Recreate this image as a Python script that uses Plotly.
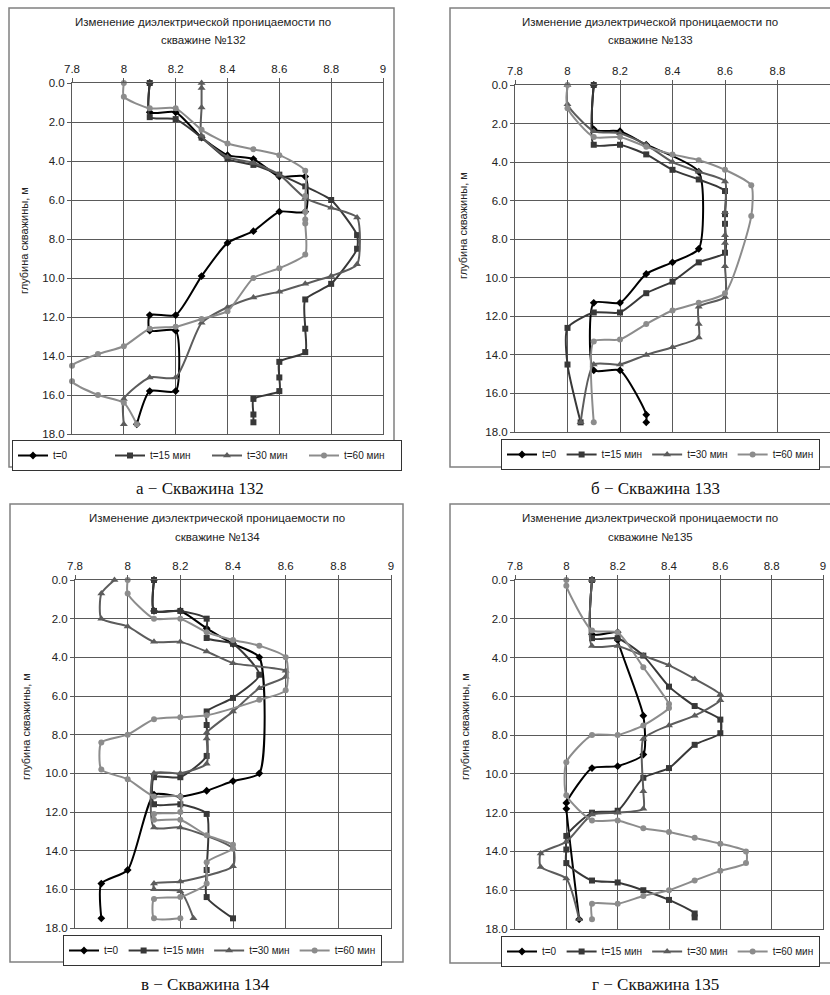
import plotly.graph_objects as go

W, H = 830, 995

# ---------------- data ----------------
series_names = ["t=0", "t=15 мин", "t=30 мин", "t=60 мин"]
x_tick_vals = [7.8, 8.0, 8.2, 8.4, 8.6, 8.8, 9.0]
x_tick_labels = ["7.8", "8", "8.2", "8.4", "8.6", "8.8", "9"]
y_tick_vals = [0, 2, 4, 6, 8, 10, 12, 14, 16, 18]
y_tick_labels = ["0.0", "2.0", "4.0", "6.0", "8.0", "10.0", "12.0", "14.0", "16.0", "18.0"]
title_line1 = "Изменение диэлектрической проницаемости по"
title_line2 = ["скважине №132", "скважине №133", "скважине №134", "скважине №135"]
captions = ["а − Скважина 132", "б − Скважина 133", "в − Скважина 134", "г − Скважина 135"]
y_axis_title = "глубина скважины, м"

# Well 132
w132_t0_eps = [8.1, 8.1, 8.2, 8.3, 8.4, 8.5, 8.6, 8.7, 8.7, 8.6, 8.5, 8.4, 8.3, 8.2, 8.1, 8.1, 8.2, 8.2, 8.1, 8.05]
w132_t0_dep = [0, 1.5, 1.5, 2.8, 3.7, 3.9, 4.8, 4.8, 6.6, 6.6, 7.6, 8.2, 9.9, 11.9, 11.9, 12.7, 12.7, 15.8, 15.8, 17.5]
w132_t15_eps = [8.1, 8.1, 8.2, 8.3, 8.4, 8.5, 8.6, 8.7, 8.8, 8.9, 8.9, 8.8, 8.7, 8.7, 8.7, 8.6, 8.6, 8.6, 8.5, 8.5, 8.5]
w132_t15_dep = [0, 1.75, 1.85, 2.8, 3.9, 4.2, 4.7, 5.3, 6.0, 7.8, 8.5, 10.3, 11.1, 12.6, 13.8, 14.3, 15.1, 15.8, 16.2, 17.0, 17.4]
w132_t30_eps = [8.3, 8.3, 8.3, 8.3, 8.4, 8.5, 8.6, 8.7, 8.8, 8.9, 8.9, 8.8, 8.7, 8.6, 8.5, 8.4, 8.3, 8.2, 8.1, 8.0, 8.0]
w132_t30_dep = [0, 0.25, 1.25, 2.7, 3.8, 4.1, 4.7, 5.9, 6.4, 6.9, 9.3, 9.9, 10.3, 10.7, 11.0, 11.5, 12.3, 15.1, 15.1, 16.2, 17.5]
w132_t60_eps = [8.0, 8.0, 8.1, 8.2, 8.3, 8.4, 8.5, 8.6, 8.7, 8.7, 8.7, 8.7, 8.7, 8.7, 8.6, 8.5, 8.4, 8.3, 8.2, 8.1, 8.0, 7.9, 7.8, 7.8, 7.9, 8.0, 8.05]
w132_t60_dep = [0, 0.7, 1.3, 1.3, 2.4, 3.1, 3.4, 3.7, 4.5, 5.8, 6.6, 7.0, 7.2, 8.8, 9.5, 10.0, 11.7, 12.1, 12.5, 12.6, 13.5, 13.9, 14.5, 15.3, 16.0, 16.4, 17.5]

# Well 133
w133_t0_eps = [8.1, 8.1, 8.2, 8.3, 8.5, 8.5, 8.4, 8.3, 8.2, 8.1, 8.1, 8.2, 8.3, 8.3]
w133_t0_dep = [0, 2.3, 2.4, 3.1, 4.5, 8.5, 9.2, 9.8, 11.3, 11.3, 14.8, 14.8, 17.1, 17.5]
w133_t15_eps = [8.1, 8.1, 8.2, 8.3, 8.4, 8.5, 8.6, 8.6, 8.6, 8.6, 8.5, 8.4, 8.3, 8.2, 8.1, 8.0, 8.0, 8.05]
w133_t15_dep = [0, 3.1, 3.1, 3.6, 4.4, 4.9, 5.5, 6.7, 7.2, 8.7, 9.2, 10.2, 10.8, 11.8, 11.8, 12.6, 14.5, 17.5]
w133_t30_eps = [8.0, 8.0, 8.1, 8.2, 8.3, 8.4, 8.5, 8.6, 8.6, 8.6, 8.6, 8.6, 8.6, 8.5, 8.5, 8.5, 8.4, 8.3, 8.2, 8.1, 8.05]
w133_t30_dep = [0, 1.0, 2.4, 2.5, 3.1, 4.0, 4.5, 5.0, 6.6, 7.8, 8.2, 9.4, 11.0, 11.5, 12.4, 13.1, 13.6, 14.0, 14.5, 14.5, 17.5]
w133_t60_eps = [8.0, 8.0, 8.1, 8.2, 8.3, 8.4, 8.5, 8.6, 8.7, 8.7, 8.6, 8.5, 8.4, 8.3, 8.2, 8.1, 8.1]
w133_t60_dep = [0, 1.2, 2.7, 2.7, 3.2, 3.6, 3.9, 4.4, 5.2, 6.8, 10.8, 11.3, 11.7, 12.4, 13.2, 13.3, 17.5]

# Well 134
w134_t0_eps = [8.1, 8.1, 8.2, 8.3, 8.4, 8.5, 8.5, 8.4, 8.3, 8.2, 8.1, 8.0, 7.9, 7.9]
w134_t0_dep = [0, 1.6, 1.6, 2.5, 3.3, 4.0, 10.0, 10.4, 10.9, 11.2, 11.1, 15.0, 15.7, 17.5]
w134_t15_eps = [8.1, 8.1, 8.2, 8.3, 8.3, 8.4, 8.5, 8.4, 8.3, 8.3, 8.3, 8.2, 8.1, 8.1, 8.2, 8.3, 8.3, 8.3, 8.4]
w134_t15_dep = [0, 1.6, 1.6, 2.0, 3.0, 3.3, 4.9, 6.1, 6.8, 7.5, 9.1, 10.2, 10.2, 11.6, 11.6, 12.1, 15.0, 16.4, 17.5]
w134_t30_eps = [7.95, 7.9, 7.9, 8.0, 8.1, 8.2, 8.3, 8.4, 8.6, 8.6, 8.5, 8.4, 8.3, 8.3, 8.3, 8.2, 8.1, 8.1, 8.2, 8.4, 8.4, 8.2, 8.1, 8.1, 8.2, 8.25]
w134_t30_dep = [0, 0.7, 2.0, 2.4, 3.2, 3.2, 3.7, 4.3, 4.7, 5.0, 5.6, 6.8, 7.9, 8.2, 9.5, 10.0, 10.0, 12.8, 12.8, 13.9, 14.8, 15.6, 15.7, 16.0, 16.1, 17.5]
w134_t60_eps = [8.0, 8.0, 8.1, 8.2, 8.3, 8.4, 8.5, 8.6, 8.6, 8.5, 8.3, 8.2, 8.1, 8.0, 7.9, 7.9, 8.0, 8.1, 8.2, 8.2, 8.1, 8.1, 8.2, 8.3, 8.4, 8.4, 8.3, 8.3, 8.2, 8.1, 8.1, 8.2]
w134_t60_dep = [0, 0.7, 2.0, 2.0, 2.7, 3.1, 3.4, 4.0, 5.7, 6.2, 7.0, 7.1, 7.2, 8.0, 8.4, 9.8, 10.3, 11.2, 11.2, 12.0, 12.1, 12.4, 12.4, 13.2, 13.7, 13.9, 14.6, 15.7, 16.4, 16.5, 17.5, 17.5]

# Well 135
w135_t0_eps = [8.1, 8.1, 8.2, 8.2, 8.3, 8.3, 8.2, 8.1, 8.0, 8.0, 8.05]
w135_t0_dep = [0, 2.8, 2.7, 3.1, 7.0, 9.0, 9.6, 9.7, 11.5, 11.8, 17.5]
w135_t15_eps = [8.1, 8.1, 8.2, 8.3, 8.4, 8.5, 8.6, 8.6, 8.5, 8.4, 8.3, 8.2, 8.1, 8.0, 8.0, 8.0, 8.1, 8.2, 8.3, 8.4, 8.5, 8.5]
w135_t15_dep = [0, 3.0, 3.0, 3.9, 5.5, 6.5, 7.2, 7.9, 8.5, 9.7, 10.2, 11.9, 12.0, 13.2, 13.9, 14.6, 15.5, 15.6, 16.0, 16.5, 17.2, 17.4]
w135_t30_eps = [8.1, 8.1, 8.2, 8.3, 8.4, 8.5, 8.6, 8.6, 8.5, 8.4, 8.3, 8.3, 8.3, 8.2, 8.1, 8.0, 7.9, 7.9, 8.0, 8.05]
w135_t30_dep = [0, 3.4, 3.4, 3.9, 4.4, 5.1, 5.9, 6.2, 7.0, 7.5, 8.2, 10.9, 11.8, 12.0, 12.1, 13.5, 14.1, 14.8, 15.4, 17.5]
w135_t60_eps = [8.0, 8.0, 8.1, 8.2, 8.3, 8.4, 8.4, 8.3, 8.2, 8.1, 8.0, 8.0, 8.1, 8.2, 8.3, 8.4, 8.5, 8.6, 8.7, 8.7, 8.6, 8.5, 8.4, 8.3, 8.2, 8.1, 8.1]
w135_t60_dep = [0, 0.3, 2.6, 2.7, 4.5, 6.4, 6.6, 7.5, 8.0, 8.0, 9.4, 11.1, 12.4, 12.4, 12.8, 13.0, 13.3, 13.6, 14.0, 14.6, 15.0, 15.5, 16.0, 16.3, 16.7, 16.7, 17.5]

wells = [
    [(w132_t0_eps, w132_t0_dep), (w132_t15_eps, w132_t15_dep), (w132_t30_eps, w132_t30_dep), (w132_t60_eps, w132_t60_dep)],
    [(w133_t0_eps, w133_t0_dep), (w133_t15_eps, w133_t15_dep), (w133_t30_eps, w133_t30_dep), (w133_t60_eps, w133_t60_dep)],
    [(w134_t0_eps, w134_t0_dep), (w134_t15_eps, w134_t15_dep), (w134_t30_eps, w134_t30_dep), (w134_t60_eps, w134_t60_dep)],
    [(w135_t0_eps, w135_t0_dep), (w135_t15_eps, w135_t15_dep), (w135_t30_eps, w135_t30_dep), (w135_t60_eps, w135_t60_dep)],
]

# ---------------- styles / layout geometry (pixels) ----------------
series_styles = [
    dict(color="#000000", symbol="diamond", size=6),
    dict(color="#383838", symbol="square", size=6),
    dict(color="#5c5c5c", symbol="triangle-up", size=7),
    dict(color="#8c8c8c", symbol="circle", size=6),
]
panels = [
    dict(plot=(72, 83, 383, 434), frame=(9, 8, 394, 467), legend=(12, 440), entry=52,
         title_x=203, title_y=(22, 40), ytitle=(24, 241), cap=(200, 488)),
    dict(plot=(515, 85, 830, 432), frame=(450, 8, 836, 467), legend=(501, 439), entry=0,
         title_x=650, title_y=(22, 40), ytitle=(463, 226), cap=(655, 488)),
    dict(plot=(75, 580, 391, 928), frame=(10, 504, 403, 962), legend=(63, 935), entry=0,
         title_x=217, title_y=(518, 537), ytitle=(26, 727), cap=(205, 984)),
    dict(plot=(515, 580, 823, 929), frame=(450, 504, 836, 963), legend=(501, 936), entry=0,
         title_x=650, title_y=(518, 537), ytitle=(465, 727), cap=(655, 984)),
]

SANS = "Liberation Sans, Arial, sans-serif"
SERIF = "Liberation Serif, Times New Roman, serif"
GRID = "#5a5a5a"

fig = go.Figure()
layout = dict(
    width=W, height=H, autosize=False,
    margin=dict(l=0, r=0, t=0, b=0, pad=0),
    paper_bgcolor="white", plot_bgcolor="white",
    font=dict(family=SANS, size=11, color="#222"),
    shapes=[], annotations=[],
)

for i, (well, p) in enumerate(zip(wells, panels)):
    sfx = str(i + 1) if i else ""
    x0, y0, x1, y1 = p["plot"]
    for j, (eps, dep) in enumerate(well):
        st = series_styles[j]
        fig.add_trace(go.Scatter(
            x=eps, y=dep, mode="lines+markers", name=series_names[j],
            line=dict(color=st["color"], width=2, shape="spline", smoothing=0.6),
            marker=dict(symbol=st["symbol"], size=st["size"], color=st["color"]),
            xaxis="x" + sfx, yaxis="y" + sfx, legend="legend" + sfx,
            cliponaxis=False, hoverinfo="x+y",
        ))
    layout["xaxis" + sfx] = dict(
        domain=[x0 / W, x1 / W], range=[7.8, 9.0], side="top", anchor="y" + sfx,
        automargin=False,
        tickvals=x_tick_vals, ticktext=x_tick_labels, tickfont=dict(size=11.5, color="#222"),
        showgrid=True, gridcolor=GRID, gridwidth=1, zeroline=False,
        ticks="outside", ticklen=4, tickcolor=GRID,
        showline=True, mirror=True, linecolor=GRID, linewidth=1,
    )
    layout["yaxis" + sfx] = dict(
        domain=[1 - y1 / H, 1 - y0 / H], range=[18, 0], anchor="x" + sfx,
        automargin=False,
        tickvals=y_tick_vals, ticktext=y_tick_labels, tickfont=dict(size=11.5, color="#222"),
        showgrid=True, gridcolor=GRID, gridwidth=1, zeroline=False,
        ticks="outside", ticklen=4, tickcolor=GRID,
        showline=True, mirror=True, linecolor=GRID, linewidth=1,
    )
    legend_cfg = dict(
        x=p["legend"][0] / W, y=1 - p["legend"][1] / H, xanchor="left", yanchor="top",
        orientation="h", bgcolor="white", bordercolor="#333", borderwidth=1,
        font=dict(family=SANS, size=10, color="#222"), itemwidth=30,
        tracegroupgap=0,
    )
    if p["entry"]:
        legend_cfg["entrywidth"] = p["entry"]
    layout["legend" + sfx] = legend_cfg
    fx0, fy0, fx1, fy1 = p["frame"]
    layout["shapes"].append(dict(
        type="rect", xref="paper", yref="paper",
        x0=fx0 / W, x1=fx1 / W, y0=1 - fy0 / H, y1=1 - fy1 / H,
        line=dict(color="#808080", width=1.5), layer="below",
    ))
    for txt, ty in zip([title_line1, title_line2[i]], p["title_y"]):
        layout["annotations"].append(dict(
            text=txt, x=p["title_x"] / W, y=1 - ty / H,
            xref="paper", yref="paper", xanchor="center", yanchor="middle",
            showarrow=False, font=dict(family=SANS, size=11.5, color="#222"),
        ))
    layout["annotations"].append(dict(
        text=y_axis_title, x=p["ytitle"][0] / W, y=1 - p["ytitle"][1] / H,
        xref="paper", yref="paper", xanchor="center", yanchor="middle", textangle=-90,
        showarrow=False, font=dict(family=SANS, size=11, color="#222"),
    ))
    layout["annotations"].append(dict(
        text=captions[i], x=p["cap"][0] / W, y=1 - p["cap"][1] / H,
        xref="paper", yref="paper", xanchor="center", yanchor="middle",
        showarrow=False, font=dict(family=SERIF, size=17, color="#111"),
    ))

fig.update_layout(**layout)
fig.write_html("out.html", config={"displayModeBar": False},
               post_script="document.body.style.margin='0px';")
